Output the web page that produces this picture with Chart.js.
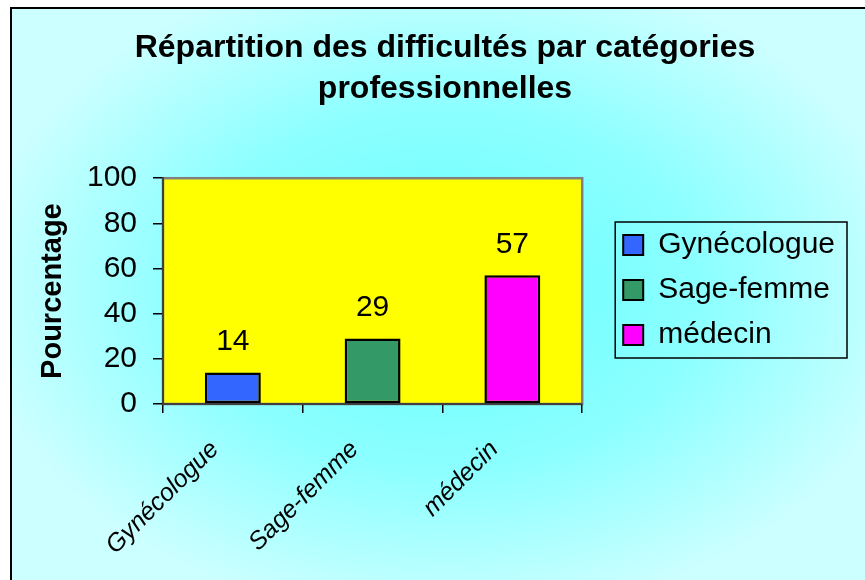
<!DOCTYPE html>
<html>
<head>
<meta charset="utf-8">
<script src="https://cdn.jsdelivr.net/npm/chart.js@4.4.1/dist/chart.umd.min.js"></script>
<style>
  html, body { margin: 0; padding: 0; background: #fff; }
  #wrap { width: 865px; height: 580px; }
</style>
</head>
<body>
<div id="wrap"><canvas id="graf" width="865" height="580"></canvas></div>
<script>
// donnees du graphique
const categories = ['Gynécologue', 'Sage-femme', 'médecin']
const pourcentages = [14, 29, 57]
const couleurs = ['#3366ff', '#339966', '#ff00ff']
const graduations = [0, 20, 40, 60, 80, 100]

const police = '"Liberation Sans", Arial, sans-serif'

// fond degrade + cadre + zone de tracé jaune
const fondPlugin = {
    id: 'fond',
    beforeDraw(chart) {
        const ctx = chart.ctx
        const a = chart.chartArea
        ctx.save()
        ctx.fillStyle = '#ffffff'
        ctx.fillRect(0, 0, chart.width, chart.height)
        ctx.save()
        ctx.translate(445, 290)
        ctx.scale(1, 0.7)
        let grad = ctx.createRadialGradient(0, 0, 0, 0, 0, 470)
        grad.addColorStop(0, '#66ffff')
        grad.addColorStop(0.55, '#8cffff')
        grad.addColorStop(1, '#ccffff')
        ctx.fillStyle = grad
        ctx.fillRect(-445 + 11, (-290 + 7) / 0.7, 900, 900)
        ctx.restore()
        ctx.strokeStyle = '#000'
        ctx.lineWidth = 2
        ctx.beginPath()
        ctx.moveTo(11, chart.height + 5)
        ctx.lineTo(11, 8)
        ctx.lineTo(chart.width + 5, 8)
        ctx.stroke()
        ctx.fillStyle = '#ffff00'
        ctx.fillRect(a.left, a.top, a.right - a.left, a.bottom - a.top)
        ctx.strokeStyle = '#808080'
        ctx.lineWidth = 2.5
        ctx.strokeRect(a.left, a.top, a.right - a.left, a.bottom - a.top)
        ctx.restore()
    },
    afterDraw(chart) {
        // cadre de la legende
        const boxes = chart.legend.legendHitBoxes
        if (!boxes || !boxes.length) return
        let gauche = Math.min(...boxes.map(b => b.left)) - 8
        let droite = Math.max(...boxes.map(b => b.left + b.width)) + 12
        let haut = boxes[0].top - 8
        let bas = boxes[boxes.length - 1].top + boxes[boxes.length - 1].height + 8
        const ctx = chart.ctx
        ctx.save()
        ctx.strokeStyle = '#000'
        ctx.lineWidth = 1.5
        ctx.strokeRect(gauche, haut, droite - gauche, bas - haut)
        ctx.restore()
    }
}

// valeurs au-dessus des barres
const etiquettesPlugin = {
    id: 'etiquettes',
    afterDatasetsDraw(chart) {
        const ctx = chart.ctx
        const meta = chart.getDatasetMeta(0)
        ctx.save()
        ctx.font = '30px ' + police
        ctx.fillStyle = '#000'
        ctx.textAlign = 'center'
        ctx.textBaseline = 'middle'
        meta.data.forEach((barre, i) => {
            ctx.fillText(String(pourcentages[i]), barre.x, barre.y - 31)
        })
        ctx.restore()
    }
}

let graf = new Chart(document.getElementById('graf'), {
    type: 'bar',
    data: {
        labels: categories,
        datasets: [
            {
                data: pourcentages,
                backgroundColor: couleurs,
                borderColor: '#000',
                borderWidth: 2.5,
                borderSkipped: false,
                barPercentage: 0.4,
                categoryPercentage: 1
            }
        ]
    },
    options: {
        responsive: false,
        animation: false,
        layout: { padding: { left: 45, right: 20, top: 0, bottom: 0 } },
        plugins: {
            tooltip: { enabled: false },
            title: {
                display: true,
                text: ['Répartition des difficultés par catégories', 'professionnelles'],
                color: '#000',
                font: { family: police, size: 32, weight: 'bold', lineHeight: 1.3 },
                padding: { top: 27, bottom: 68 }
            },
            legend: {
                display: true,
                position: 'right',
                align: 'center',
                maxWidth: 320,
                labels: {
                    color: '#000',
                    font: { family: police, size: 30 },
                    boxWidth: 20,
                    boxHeight: 20,
                    padding: 15,
                    generateLabels: () => categories.map((c, i) => ({
                        text: c,
                        fillStyle: couleurs[i],
                        strokeStyle: '#000',
                        fontColor: '#000',
                        lineWidth: 2,
                        index: i
                    }))
                }
            }
        },
        scales: {
            x: {
                grid: { display: true, drawOnChartArea: false, offset: true, tickLength: 9, color: '#000', lineWidth: 1.5 },
                border: { display: true, color: '#404040', width: 2 },
                ticks: {
                    color: '#000',
                    font: { family: police, size: 25, style: 'italic' },
                    minRotation: 45,
                    maxRotation: 45,
                    padding: 22,
                    labelOffset: -18
                },
                afterFit(s) { s.height = 176 }
            },
            y: {
                min: 0,
                max: 100,
                afterBuildTicks(s) { s.ticks = graduations.map(v => ({ value: v })) },
                grid: { display: true, drawOnChartArea: false, tickLength: 10, color: '#000', lineWidth: 1.5 },
                border: { display: true, color: '#404040', width: 2 },
                ticks: {
                    color: '#000',
                    font: { family: police, size: 30 },
                    padding: 16
                },
                title: {
                    display: true,
                    text: 'Pourcentage',
                    color: '#000',
                    font: { family: police, size: 29, weight: 'bold' },
                    padding: { top: -9, bottom: 0 }
                },
                afterFit(s) { s.width = 118 }
            },
            ecart: {
                type: 'linear',
                position: 'right',
                display: true,
                grid: { display: false },
                border: { display: false },
                ticks: { display: false },
                afterFit(s) { s.width = 26 }
            }
        }
    },
    plugins: [fondPlugin, etiquettesPlugin]
})
</script>
</body>
</html>
